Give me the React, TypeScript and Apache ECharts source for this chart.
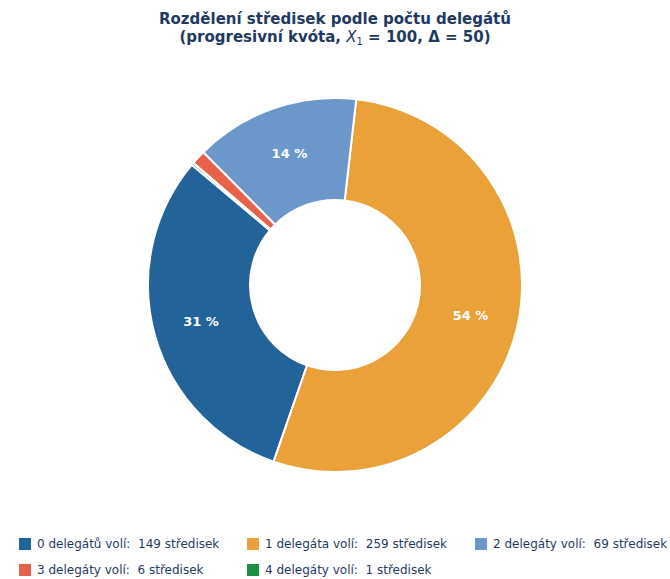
import React, { useEffect, useRef } from "react";
import * as echarts from "echarts";

const categories = ["0 delegátů volí:  149 středisek", "1 delegáta volí:  259 středisek", "2 delegáty volí:  69 středisek", "3 delegáty volí:  6 středisek", "4 delegáty volí:  1 středisek"];
const values = [149, 259, 69, 6, 1];
const colors = ["#22649a", "#eba13a", "#6b97cb", "#e8624a", "#1a9043"];
const legendPos = [[12, 531], [240, 531], [468, 531], [12, 557], [240, 557]];

export default function App() {
  const ref = useRef<HTMLDivElement>(null);
  useEffect(() => {
    document.body.style.margin = "0";
    const chart = echarts.init(ref.current!, null, { renderer: "svg" });
    const total = values.reduce((a, b) => a + b, 0);
    const navy = "#1f3a60";
    chart.setOption({
      animation: false,
      color: colors,
      title: {
        left: "center",
        top: 6,
        text: "Rozdělení středisek podle počtu delegátů",
        subtext: "{b|(progresivní kvóta, }{i|X}{s|1}{b| = 100, Δ = 50)}",
        itemGap: 2,
        textStyle: { color: navy, fontSize: 15, fontWeight: "bold", fontFamily: "DejaVu Sans" },
        subtextStyle: {
          rich: {
            b: { color: navy, fontSize: 15, fontWeight: "bold", fontFamily: "DejaVu Sans" },
            i: { color: navy, fontSize: 15, fontStyle: "italic", fontFamily: "DejaVu Sans" },
            s: { color: navy, fontSize: 10, fontFamily: "DejaVu Sans", padding: [8, 0, 0, 0] },
          },
        },
      },
      legend: legendPos.map((p, i) => ({
        data: [categories[i]],
        left: p[0],
        top: p[1],
        icon: "rect",
        itemWidth: 14,
        itemHeight: 14,
        itemGap: 10,
        textStyle: { color: navy, fontSize: 12, fontFamily: "DejaVu Sans" },
      })),
      series: [
        {
          type: "pie",
          center: [335, 285],
          radius: [85, 187],
          startAngle: 140,
          clockwise: false,
          avoidLabelOverlap: false,
          itemStyle: { borderColor: "#fff", borderWidth: 2 },
          label: {
            position: "inner",
            color: "#fff",
            fontWeight: "bold",
            fontSize: 13,
            fontFamily: "DejaVu Sans",
            formatter: (p: any) => (p.value / total > 0.05 ? Math.round((p.value / total) * 100) + " %" : ""),
          },
          labelLine: { show: false },
          emphasis: { disabled: true },
          data: categories.map((c, i) => ({ name: c, value: values[i] })),
        },
      ],
    });
    return () => chart.dispose();
  }, []);
  return <div ref={ref} style={{ width: 670, height: 579 }} />;
}
